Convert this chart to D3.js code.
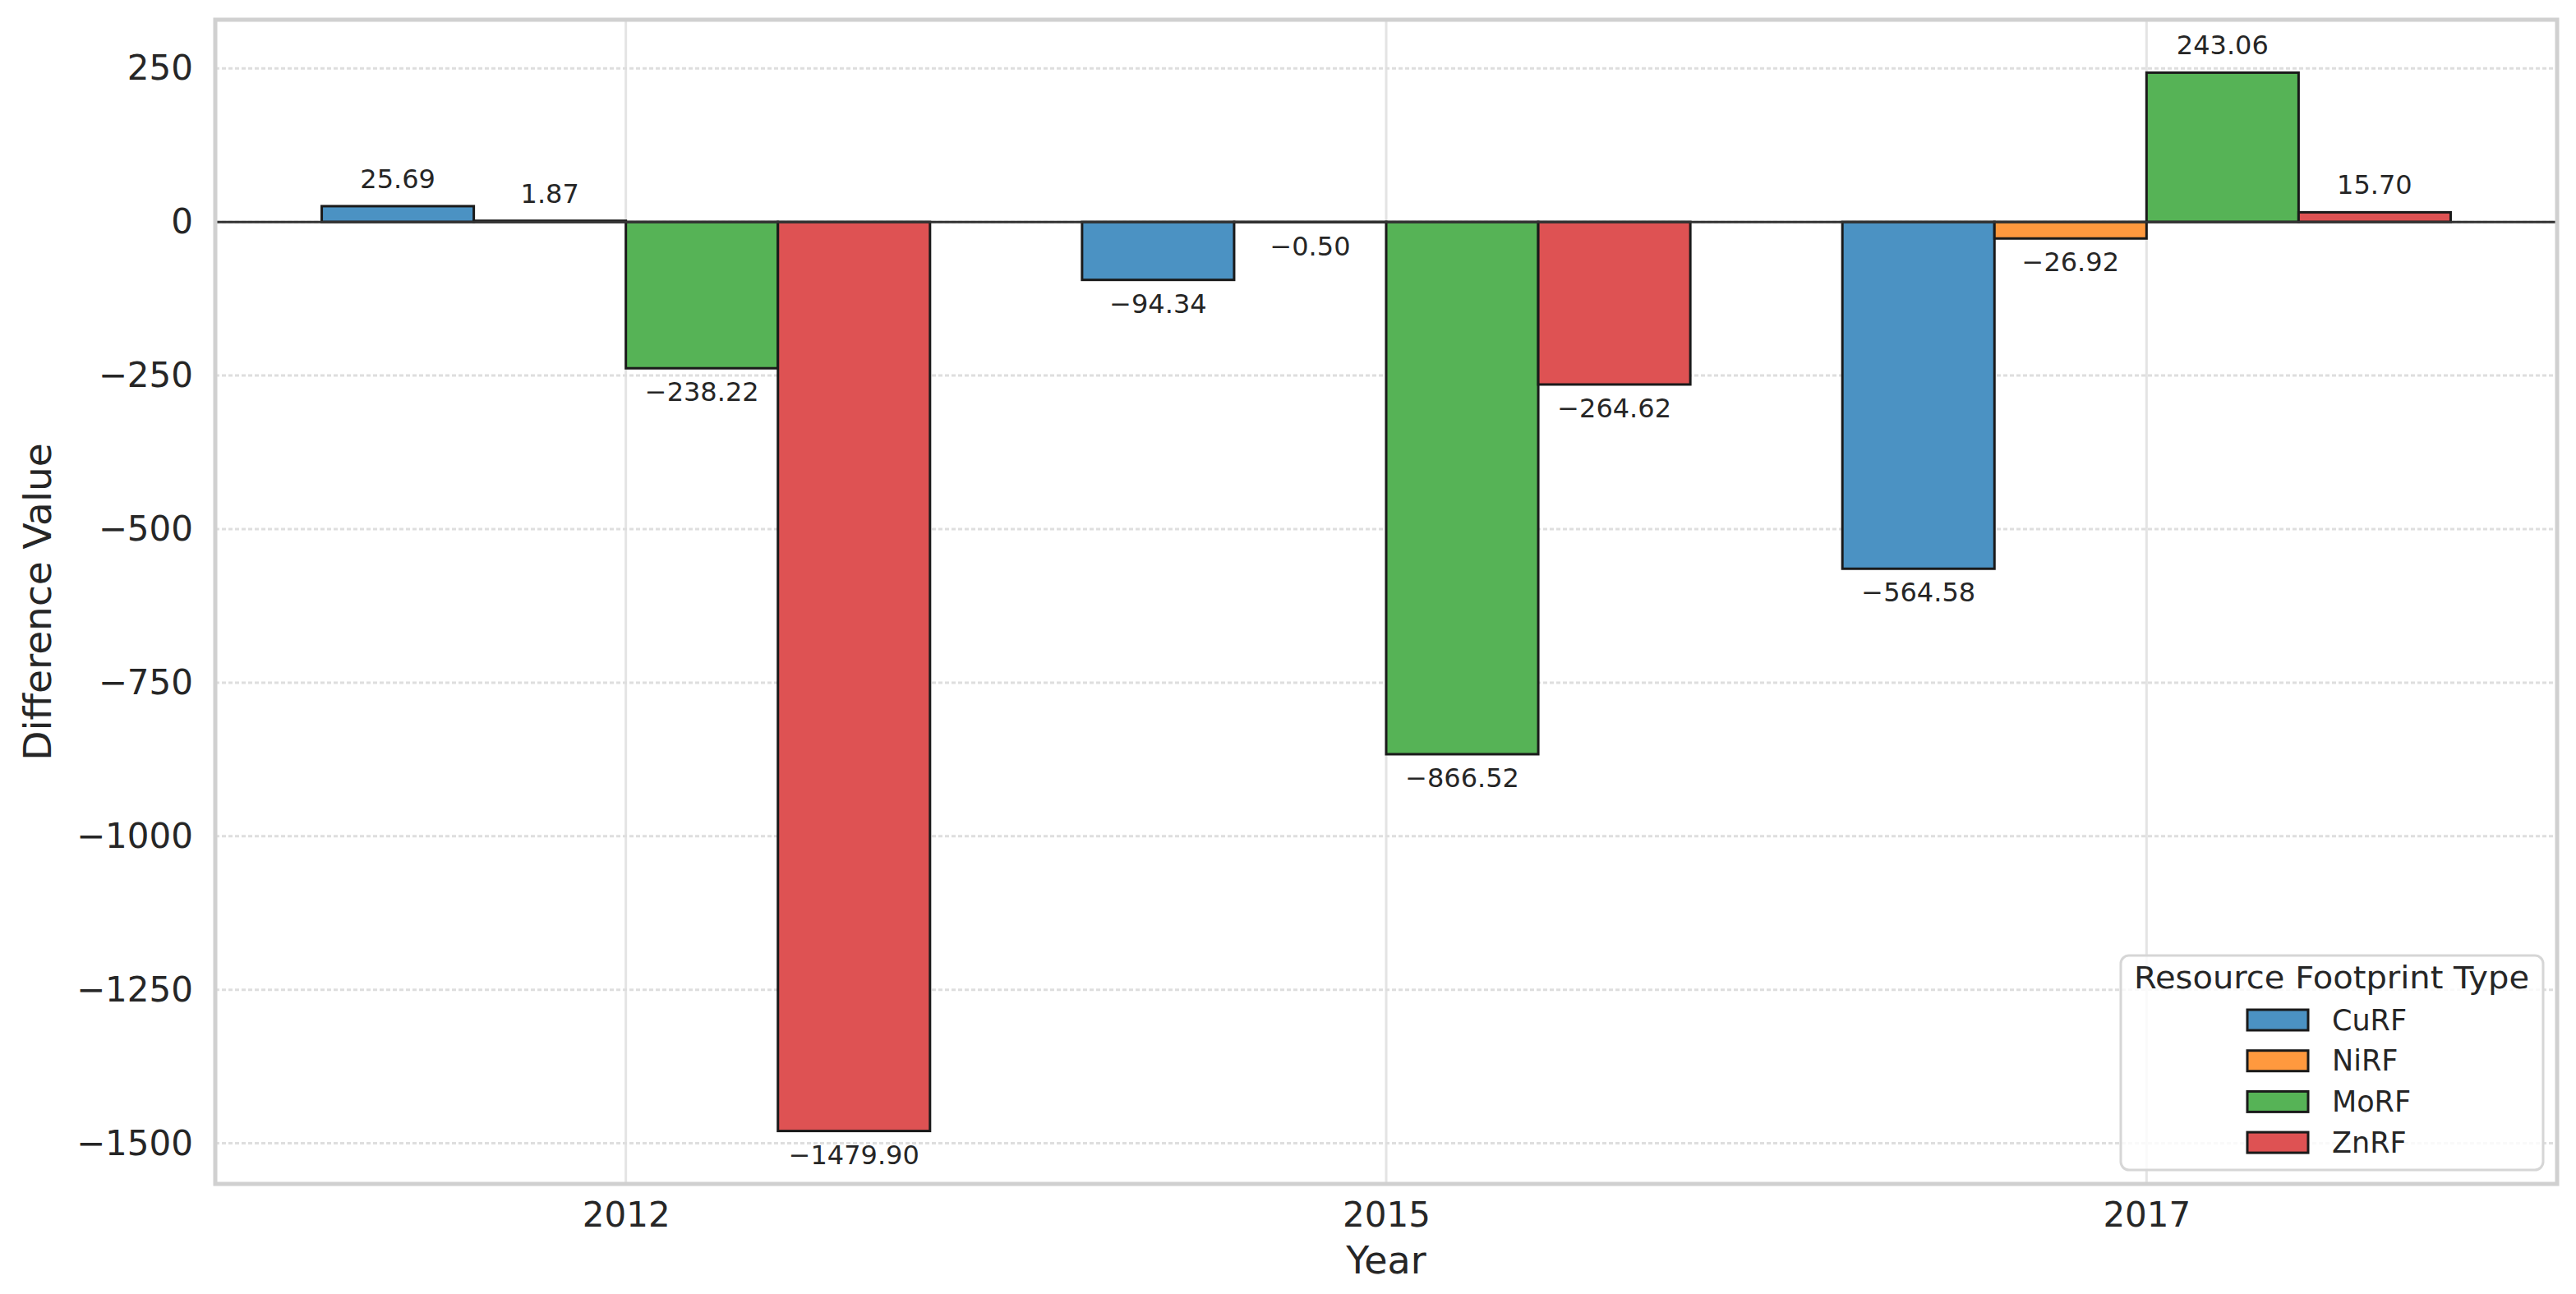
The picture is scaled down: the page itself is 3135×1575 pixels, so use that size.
<!DOCTYPE html>
<html>
<head>
<meta charset="utf-8">
<script src="https://cdn.jsdelivr.net/npm/d3@7"></script>
<style>
html,body{margin:0;padding:0;background:#fff;}
svg{display:block;font-family:"DejaVu Sans",sans-serif;}
</style>
</head>
<body>
<svg id="chart" width="3135" height="1575"></svg>
<script>
const years = ["2012", "2015", "2017"];
const seriesNames = ["CuRF", "NiRF", "MoRF", "ZnRF"];
const CuRF = [25.69, -94.34, -564.58];
const NiRF = [1.87, -0.50, -26.92];
const MoRF = [-238.22, -866.52, 243.06];
const ZnRF = [-1479.90, -264.62, 15.70];
const yTickValues = [250, 0, -250, -500, -750, -1000, -1250, -1500];
const colors = ["#4b92c3", "#ff993e", "#56b356", "#de5253"];

(function () {
const seriesValues = [CuRF, NiRF, MoRF, ZnRF];
const svg = d3.select("#chart");
const pL = 262, pR = 3112, pT = 24, pB = 1441;
const textColor = "#262626";
const minus = s => s.replace(/-/g, "\u2212");

const x = d3.scaleLinear().domain([-0.54, 2.54]).range([pL, pR]);
const y = d3.scaleLinear().domain([-1566.05, 329.21]).range([pB, pT]);
const barW = 0.2;

// x grid (solid)
svg.append("g").selectAll("line").data(years).join("line")
  .attr("x1", (d, i) => x(i)).attr("x2", (d, i) => x(i))
  .attr("y1", pT).attr("y2", pB)
  .attr("stroke", "#e4e4e4").attr("stroke-width", 3);

// y grid (dashed)
svg.append("g").selectAll("line").data(yTickValues).join("line")
  .attr("x1", pL).attr("x2", pR)
  .attr("y1", d => y(d)).attr("y2", d => y(d))
  .attr("stroke", "#dedede").attr("stroke-width", 3)
  .attr("stroke-dasharray", "5,3");

// bars
const barData = [];
seriesValues.forEach((vals, j) => {
  vals.forEach((v, i) => barData.push({ i, j, v }));
});
svg.append("g").selectAll("rect").data(barData).join("rect")
  .attr("x", d => x(d.i + (d.j - 2) * barW))
  .attr("width", d => x(barW) - x(0))
  .attr("y", d => y(Math.max(0, d.v)))
  .attr("height", d => Math.abs(y(d.v) - y(0)))
  .attr("fill", d => colors[d.j])
  .attr("stroke", "#1a1a1a").attr("stroke-width", 3);

// zero line
svg.append("line")
  .attr("x1", pL).attr("x2", pR)
  .attr("y1", y(0)).attr("y2", y(0))
  .attr("stroke", "#333").attr("stroke-width", 3);

// bar labels
svg.append("g").selectAll("text").data(barData).join("text")
  .attr("x", d => x(d.i + (d.j - 1.5) * barW))
  .attr("y", d => d.v >= 0 ? y(d.v) - 22 : y(d.v) + 40)
  .attr("text-anchor", "middle")
  .attr("font-size", 32)
  .attr("fill", textColor)
  .text(d => minus(d3.format(".2f")(d.v)));

// spines
svg.append("rect")
  .attr("x", pL).attr("y", pT)
  .attr("width", pR - pL).attr("height", pB - pT)
  .attr("fill", "none").attr("stroke", "#d0d0d0").attr("stroke-width", 5);

// y axis
const yAxis = d3.axisLeft(y).tickValues(yTickValues).tickSize(0).tickPadding(27)
  .tickFormat(d => minus(String(d)));
const yg = svg.append("g").attr("transform", `translate(${pL},0)`).call(yAxis);
yg.select(".domain").remove();
yg.selectAll("text").attr("font-size", 42).attr("fill", textColor)
  .attr("font-family", "DejaVu Sans");

// x axis
const xAxis = d3.axisBottom(x).tickValues([0, 1, 2]).tickSize(0).tickPadding(22)
  .tickFormat((d) => years[d]);
const xg = svg.append("g").attr("transform", `translate(0,${pB})`).call(xAxis);
xg.select(".domain").remove();
xg.selectAll("text").attr("font-size", 42).attr("fill", textColor)
  .attr("font-family", "DejaVu Sans");

// axis labels
svg.append("text")
  .attr("x", (pL + pR) / 2).attr("y", 1550)
  .attr("text-anchor", "middle").attr("font-size", 46).attr("fill", textColor)
  .text("Year");
svg.append("text")
  .attr("transform", `translate(62,${(pT + pB) / 2}) rotate(-90)`)
  .attr("text-anchor", "middle").attr("font-size", 47).attr("fill", textColor)
  .text("Difference Value");

// legend
const lg = svg.append("g");
lg.append("rect")
  .attr("x", 2581).attr("y", 1163).attr("width", 514).attr("height", 261)
  .attr("rx", 10).attr("ry", 10)
  .attr("fill", "#ffffff").attr("fill-opacity", 0.8)
  .attr("stroke", "#d6d6d6").attr("stroke-width", 3);
lg.append("text")
  .attr("x", 2597).attr("y", 1203)
  .attr("font-size", 37).attr("fill", textColor)
  .attr("textLength", 481).attr("lengthAdjust", "spacingAndGlyphs")
  .text("Resource Footprint Type");
const rows = lg.selectAll("g.row").data(seriesNames).join("g")
  .attr("class", "row")
  .attr("transform", (d, k) => `translate(0,${1241.5 + k * 49.7})`);
rows.append("rect")
  .attr("x", 2735).attr("y", -12.5).attr("width", 74).attr("height", 25)
  .attr("fill", (d, k) => colors[k])
  .attr("stroke", "#1a1a1a").attr("stroke-width", 3);
rows.append("text")
  .attr("x", 2838).attr("y", 12)
  .attr("font-size", 35).attr("fill", textColor)
  .text(d => d);
})();
</script>
</body>
</html>
